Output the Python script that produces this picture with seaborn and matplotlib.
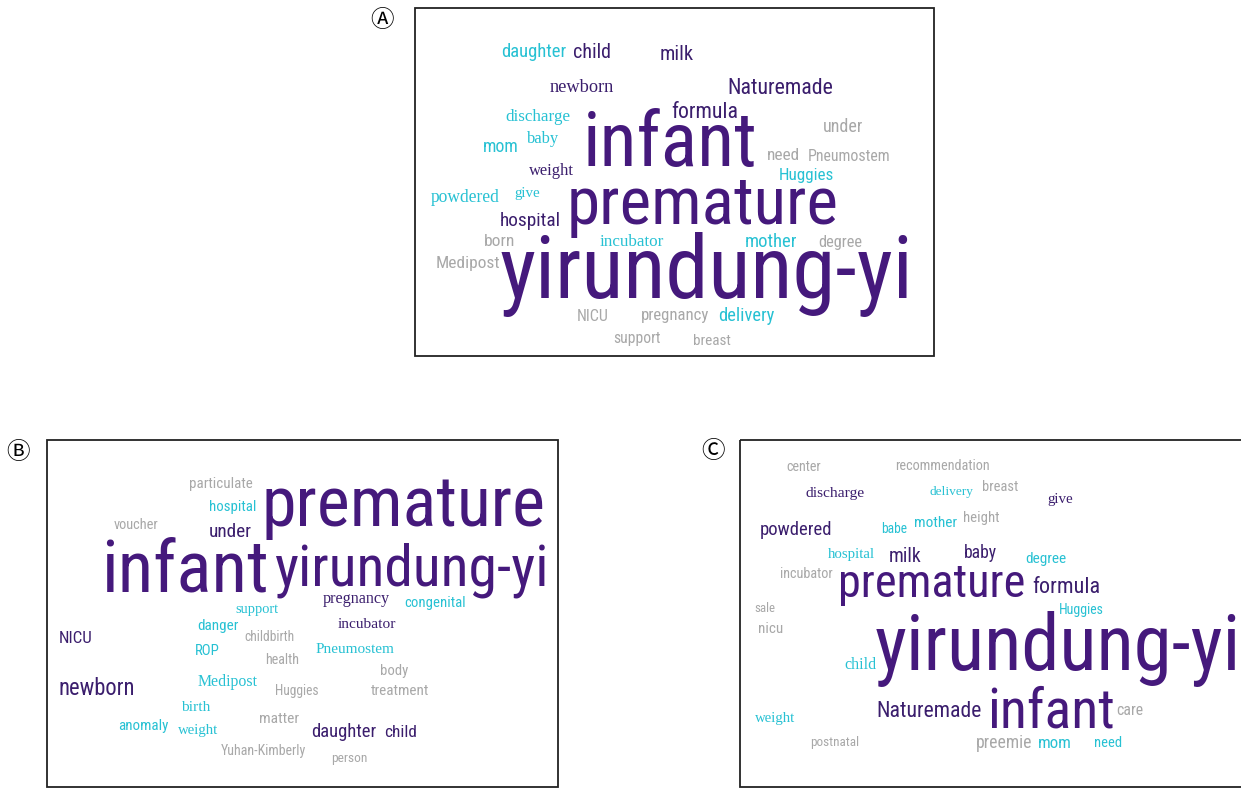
import matplotlib
matplotlib.use("Agg")
import matplotlib.pyplot as plt
from matplotlib.patches import Rectangle
from matplotlib import font_manager
import seaborn as sns

# ---------------- data ----------------
# tier: 1 = most frequent (largest, purple), 2 = frequent (purple),
#       3 = mid (cyan), 4 = less frequent (gray)
A_words = ["daughter", "child", "milk", "newborn", "Naturemade", "formula", "discharge",
           "under", "baby", "mom", "infant", "need", "Pneumostem", "weight", "Huggies",
           "powdered", "give", "premature", "hospital", "born", "incubator", "mother",
           "degree", "Medipost", "yirundung-yi", "NICU", "pregnancy", "delivery",
           "support", "breast"]
A_tier = [3, 2, 2, 2, 2, 2, 3, 4, 3, 3, 1, 4, 4, 2, 3, 3, 3, 1, 2, 4, 3, 3, 4, 4, 1,
          4, 4, 3, 4, 4]

B_words = ["particulate", "premature", "hospital", "voucher", "under", "infant",
           "yirundung-yi", "pregnancy", "congenital", "support", "incubator", "danger",
           "NICU", "childbirth", "Pneumostem", "ROP", "health", "body", "Medipost",
           "newborn", "Huggies", "treatment", "birth", "matter", "anomaly", "weight",
           "daughter", "child", "Yuhan-Kimberly", "person"]
B_tier = [4, 1, 3, 4, 2, 1, 1, 2, 3, 3, 2, 3, 2, 4, 3, 3, 4, 4, 3, 2, 4, 4, 3, 4, 3, 3,
          2, 2, 4, 4]

C_words = ["center", "recommendation", "discharge", "delivery", "breast", "give",
           "powdered", "babe", "mother", "height", "hospital", "milk", "baby", "degree",
           "incubator", "premature", "formula", "Huggies", "sale", "nicu", "yirundung-yi",
           "child", "Naturemade", "infant", "care", "weight", "postnatal", "preemie",
           "mom", "need"]
C_tier = [4, 4, 2, 3, 4, 2, 2, 3, 3, 4, 3, 2, 2, 3, 4, 1, 2, 3, 4, 4, 1, 3, 2, 1, 4, 3,
          4, 4, 3, 3]

panel_labels = ["\u24B6", "\u24B7", "\u24B8"]

# ---------------- layout (pixel space of the figure) ----------------
# left / right ink extent, baseline, serif words
A_x0 = [501, 573, 660, 550, 727, 671, 505, 823, 527, 483, 583, 767, 808, 529, 779,
        431, 514, 567, 500, 484, 600, 745, 818, 436, 500, 577, 641, 718, 613, 693]
A_x1 = [566, 611, 694, 614, 833, 738, 570, 863, 559, 519, 757, 800, 891, 574, 834,
        500, 540, 838, 561, 515, 664, 797, 862, 500, 912, 609, 709, 774, 660, 731]
A_base = [57, 58, 60, 92, 94, 118, 121, 132, 143, 152, 166, 160, 161, 175, 180,
          202, 197, 224, 226, 246, 246, 247, 247, 268, 298, 321, 320, 321, 343, 345]
A_serif = ["newborn", "discharge", "baby", "weight", "powdered", "give", "incubator"]

B_x0 = [189, 262, 209, 114, 209, 101, 275, 323, 405, 235, 338, 197, 59, 244, 315, 195,
        265, 380, 198, 59, 275, 371, 181, 259, 118, 178, 311, 384, 221, 331]
B_x1 = [252, 545, 256, 159, 252, 268, 548, 390, 466, 278, 396, 238, 93, 294, 394, 220,
        299, 408, 258, 135, 319, 429, 210, 299, 168, 218, 376, 417, 306, 367]
B_base = [488, 526, 511, 529, 537, 592, 585, 603, 607, 613, 628, 630, 643, 641, 653,
          655, 664, 675, 686, 695, 695, 695, 711, 723, 730, 734, 737, 737, 755, 762]
B_serif = ["pregnancy", "incubator", "support", "Pneumostem", "Medipost", "birth",
           "weight"]

C_x0 = [786, 895, 806, 929, 982, 1047, 760, 881, 914, 963, 828, 889, 964, 1025, 780,
        838, 1032, 1059, 754, 758, 875, 844, 877, 988, 1116, 755, 810, 976, 1038, 1094]
C_x1 = [821, 990, 865, 973, 1018, 1073, 832, 907, 957, 999, 875, 922, 997, 1066, 833,
        1025, 1100, 1104, 775, 783, 1240, 876, 982, 1115, 1143, 795, 859, 1032, 1072,
        1122]
C_base = [471, 470, 497, 495, 491, 503, 535, 533, 527, 522, 558, 562, 558, 563, 578,
          597, 593, 614, 612, 633, 670, 669, 717, 727, 715, 722, 746, 748, 748, 747]
C_serif = ["discharge", "delivery", "give", "hospital", "child", "weight"]

tier_colors = {1: "#45197c", 2: "#3b1e6d", 3: "#27c1d3", 4: "#a8a8a8"}

# ---------------- fonts ----------------
sns.set_theme(style="white")
SANS = ["Roboto Condensed", "Noto Sans", "DejaVu Sans"]
SERIF = ["Liberation Serif", "DejaVu Serif"]
SYMBOL = ["Noto Sans CJK KR", "Noto Sans Symbols", "DejaVu Sans"]
plt.rcParams["font.family"] = SANS

W, H = 1241, 789
fig = plt.figure(figsize=(W / 100, H / 100), dpi=100)
ax = fig.add_axes([0, 0, 1, 1])
ax.set_xlim(0, W)
ax.set_ylim(H, 0)
ax.axis("off")

# panel frames
frames = [(415, 8, 519, 348), (47, 440, 511, 347), (740, 440, 520, 347)]
for (fx, fy, fw, fh) in frames:
    ax.add_patch(Rectangle((fx, fy), fw, fh, fill=False, edgecolor="#222222",
                           linewidth=1.3, zorder=1))

label_pos = [(382, 20), (18, 452), (713, 451)]
for lab, (lx, ly) in zip(panel_labels, label_pos):
    ax.text(lx, ly, lab, fontsize=17, ha="center", va="center", color="black",
            family=SYMBOL)

fig.canvas.draw()
renderer = fig.canvas.get_renderer()


def draw_cloud(words, tiers, x0s, x1s, bases, serif_words):
    for w, t, a, b, yb in zip(words, tiers, x0s, x1s, bases):
        fam = SERIF if w in serif_words else SANS
        txt = ax.text((a + b) / 2, yb, w, fontsize=20, ha="center", va="baseline",
                      color=tier_colors[t], family=fam, fontweight="normal", zorder=2)
        ext = txt.get_window_extent(renderer=renderer)
        target = b - a
        txt.set_fontsize(20 * target / max(ext.width, 1))


draw_cloud(A_words, A_tier, A_x0, A_x1, A_base, A_serif)
draw_cloud(B_words, B_tier, B_x0, B_x1, B_base, B_serif)
draw_cloud(C_words, C_tier, C_x0, C_x1, C_base, C_serif)

fig.savefig("out.png", dpi=100)
